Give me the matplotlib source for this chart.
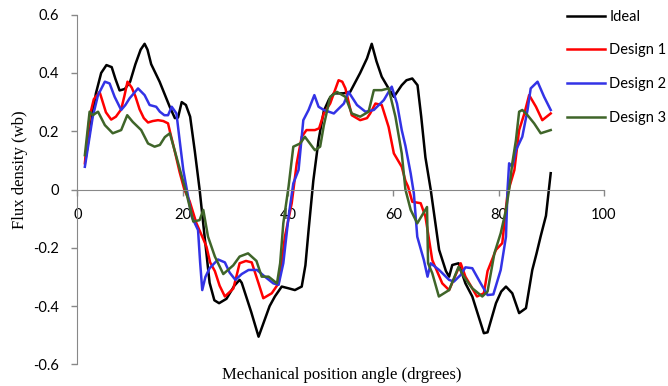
import matplotlib.pyplot as plt

# angle (deg) / flux density (wb)
ideal_x = [1.5, 2.5, 3.5, 4.5, 5.5, 6.5, 7.2, 8.0, 9.0, 10.0, 11.0, 12.0, 12.75, 13.3, 14.0, 15.6,
           17.5, 18.5, 19.1, 19.8, 20.6, 21.4, 22.3, 23.2, 24.2, 25.1, 26.0, 26.9, 28.3, 29.8, 30.8,
           31.2, 33.0, 34.4, 35.5, 36.5, 37.5, 38.8, 40.1, 41.3, 42.6, 43.3, 43.9, 44.8, 45.8, 46.8,
           47.8, 48.7, 50.5, 51.8, 53.7, 55.0, 55.9, 56.8, 57.8, 59.0, 60.1, 61.6, 62.5, 63.6, 64.6,
           65.3, 66.1, 67.1, 68.7, 70.0, 70.6, 71.2, 72.4, 73.7, 75.0, 77.2, 77.9, 79.5, 80.5, 81.4,
           82.6, 83.9, 85.2, 86.4, 87.2, 88.0, 89.0, 89.9]
ideal_y = [0.10, 0.22, 0.33, 0.40, 0.427, 0.42, 0.38, 0.34, 0.345, 0.37, 0.43, 0.48, 0.50, 0.48, 0.43,
           0.37, 0.285, 0.245, 0.247, 0.30, 0.29, 0.25, 0.13, 0.0, -0.17, -0.32, -0.38, -0.39, -0.375,
           -0.33, -0.31, -0.32, -0.42, -0.505, -0.45, -0.40, -0.367, -0.333, -0.339, -0.345, -0.333,
           -0.26, -0.14, 0.03, 0.17, 0.27, 0.31, 0.33, 0.33, 0.335, 0.40, 0.45, 0.50, 0.44, 0.387,
           0.35, 0.318, 0.358, 0.375, 0.381, 0.358, 0.25, 0.11, 0.0, -0.207, -0.28, -0.299, -0.259,
           -0.253, -0.322, -0.367, -0.493, -0.49, -0.39, -0.35, -0.333, -0.356, -0.424, -0.407,
           -0.276, -0.22, -0.16, -0.09, 0.056]

d1_x = [1.4, 2.3, 3.1, 4.2, 4.8, 5.4, 6.4, 7.3, 8.3, 8.9, 9.5, 10.3, 11.0, 11.8, 12.6, 13.4, 14.3,
        15.3, 16.3, 17.2, 17.55, 18.5, 19.4, 20.3, 21.3, 22.6, 23.9, 24.5, 25.2, 26.1, 27.0, 28.0,
        29.6, 30.3, 30.8, 32.0, 33.1, 34.4, 35.3, 36.9, 38.2, 38.8, 39.4, 40.7, 41.65, 42.6, 43.5,
        45.1, 45.9, 46.8, 48.0, 49.6, 50.3, 50.9, 52.1, 53.7, 55.0, 55.6, 56.6, 57.8, 59.1, 60.1,
        61.6, 62.3, 62.8, 63.6, 65.2, 66.1, 67.4, 69.3, 70.6, 72.8, 73.7, 75.9, 77.2, 77.9, 79.5,
        80.7, 81.7, 83.0, 83.9, 84.9, 85.8, 87.1, 88.3, 89.9]
d1_y = [0.09, 0.25, 0.31, 0.335, 0.30, 0.265, 0.24, 0.25, 0.275, 0.32, 0.37, 0.35, 0.32, 0.275,
        0.245, 0.23, 0.235, 0.238, 0.235, 0.227, 0.20, 0.13, 0.06, 0.0, -0.04, -0.116, -0.17, -0.196,
        -0.25, -0.28, -0.33, -0.367, -0.34, -0.29, -0.253, -0.245, -0.25, -0.322, -0.373, -0.356,
        -0.322, -0.25, -0.162, -0.047, 0.09, 0.181, 0.204, 0.204, 0.21, 0.261, 0.295, 0.375, 0.37,
        0.347, 0.255, 0.238, 0.245, 0.261, 0.295, 0.29, 0.215, 0.124, 0.078, 0.03, 0.01, -0.042,
        -0.047, -0.093, -0.242, -0.322, -0.345, -0.253, -0.299, -0.367, -0.356, -0.28, -0.207,
        -0.184, -0.013, 0.067, 0.204, 0.261, 0.324, 0.284, 0.238, 0.261]

d2_x = [1.4, 2.9, 3.9, 5.2, 6.1, 7.06, 8.3, 9.1, 9.9, 11.5, 12.75, 13.7, 14.95, 15.65, 16.5, 17.2,
        17.9, 18.8, 19.4, 20.1, 21.7, 22.9, 23.3, 23.7, 24.3, 25.1, 26.7, 28.0, 28.9, 30.0, 31.2,
        32.5, 34.1, 35.6, 37.2, 38.2, 39.1, 40.1, 41.0, 42.0, 42.9, 43.9, 45.0, 45.8, 46.8, 48.7,
        50.6, 51.5, 53.1, 54.7, 56.3, 58.2, 59.7, 60.7, 61.6, 62.3, 63.3, 63.9, 64.55, 65.8, 66.5,
        67.1, 68.7, 70.6, 71.5, 72.8, 73.7, 75.0, 76.6, 77.9, 79.0, 80.4, 81.4, 81.7, 82.0, 82.6,
        83.3, 84.5, 85.5, 86.1, 87.4, 88.65, 89.9]
d2_y = [0.078, 0.25, 0.324, 0.37, 0.364, 0.318, 0.273, 0.29, 0.313, 0.347, 0.324, 0.29, 0.284,
        0.267, 0.255, 0.255, 0.284, 0.261, 0.17, 0.067, -0.093, -0.139, -0.25, -0.345, -0.30, -0.27,
        -0.24, -0.25, -0.285, -0.31, -0.29, -0.276, -0.276, -0.299, -0.322, -0.327, -0.253, -0.093,
        0.021, 0.067, 0.238, 0.273, 0.324, 0.284, 0.273, 0.261, 0.295, 0.335, 0.29, 0.267, 0.273,
        0.307, 0.353, 0.295, 0.204, 0.15, 0.055, -0.013, -0.162, -0.242, -0.299, -0.253, -0.276,
        -0.31, -0.316, -0.293, -0.267, -0.27, -0.322, -0.362, -0.36, -0.276, -0.162, 0.0, 0.09,
        0.078, 0.135, 0.181, 0.273, 0.347, 0.37, 0.318, 0.273]

d3_x = [1.4, 2.3, 2.9, 3.9, 5.2, 6.7, 8.3, 9.45, 10.5, 12.1, 13.4, 14.65, 15.65, 16.6, 17.55, 18.8,
        20.7, 22.0, 23.2, 23.9, 24.8, 26.1, 27.7, 29.6, 30.8, 32.4, 34.0, 35.0, 36.3, 37.9, 38.5,
        39.1, 40.1, 41.0, 42.3, 43.2, 45.1, 46.1, 46.8, 48.0, 49.3, 50.9, 52.1, 53.7, 55.3, 56.3,
        57.8, 59.1, 60.4, 61.6, 62.3, 63.3, 64.55, 66.4, 66.6, 67.4, 68.65, 70.6, 72.4, 73.4, 75.0,
        76.9, 77.9, 79.2, 80.4, 81.4, 82.0, 82.6, 83.3, 83.9, 84.5, 85.5, 86.75, 88.0, 89.9]
d3_y = [0.118, 0.267, 0.255, 0.267, 0.221, 0.193, 0.204, 0.255, 0.232, 0.204, 0.158, 0.147, 0.153,
        0.18, 0.193, 0.112, -0.013, -0.11, -0.105, -0.07, -0.162, -0.23, -0.29, -0.26, -0.23, -0.219,
        -0.245, -0.299, -0.299, -0.322, -0.253, -0.116, 0.01, 0.147, 0.158, 0.181, 0.135, 0.147,
        0.22, 0.318, 0.335, 0.318, 0.261, 0.25, 0.267, 0.341, 0.341, 0.347, 0.25, 0.124, 0.0, -0.07,
        -0.116, -0.06, -0.253, -0.287, -0.367, -0.345, -0.265, -0.299, -0.339, -0.367, -0.35,
        -0.219, -0.15, -0.07, 0.0, 0.09, 0.17, 0.267, 0.273, 0.255, 0.227, 0.193, 0.204]

x_ticks = [0, 20, 40, 60, 80, 100]
y_ticks = [-0.6, -0.4, -0.2, 0, 0.2, 0.4, 0.6]

fig = plt.figure(figsize=(6.68, 3.86), dpi=100)
ax = fig.add_axes([0.116, 0.056, 0.788, 0.906])

lw = 1.8
ax.plot(ideal_x, ideal_y, color='black', lw=lw, label='Ideal')
ax.plot(d1_x, d1_y, color='#ff0000', lw=lw, label='Design 1')
ax.plot(d2_x, d2_y, color='#3333e6', lw=lw, label='Design 2')
ax.plot(d3_x, d3_y, color='#3f6529', lw=lw, label='Design 3')

ax.set_xlim(0, 100)
ax.set_ylim(-0.6, 0.6)
ax.set_xticks(x_ticks)
ax.set_yticks(y_ticks)
ax.set_xticklabels([str(t) for t in x_ticks])
ax.set_yticklabels(['-0.6', '-0.4', '-0.2', '0', '0.2', '0.4', '0.6'])

axis_col = '#888888'
ax.spines['top'].set_visible(False)
ax.spines['right'].set_visible(False)
ax.spines['bottom'].set_position(('data', 0))
ax.spines['left'].set_color(axis_col)
ax.spines['bottom'].set_color(axis_col)
ax.tick_params(axis='both', direction='out', length=4, width=1, color=axis_col,
               labelsize=10.5, labelcolor='black')
ax.tick_params(axis='x', pad=9)
ax.tick_params(axis='y', pad=9)
for lab in ax.get_xticklabels() + ax.get_yticklabels():
    lab.set_family('Lato')

fig.text(0.03, 0.56, 'Flux density (wb)', rotation=90, ha='center', va='center',
         family='Liberation Serif', fontsize=12)
fig.text(0.511, 0.028, 'Mechanical position angle (drgrees)', ha='center', va='center',
         family='Liberation Serif', fontsize=12)

ax.legend(loc='upper left', bbox_to_anchor=(0.849, 0.975), bbox_transform=fig.transFigure,
          frameon=False, borderpad=0, borderaxespad=0, handlelength=2.6, handletextpad=0.3,
          labelspacing=1.35, prop={'family': 'Lato', 'size': 10.5})

fig.savefig('out.png', dpi=100)
